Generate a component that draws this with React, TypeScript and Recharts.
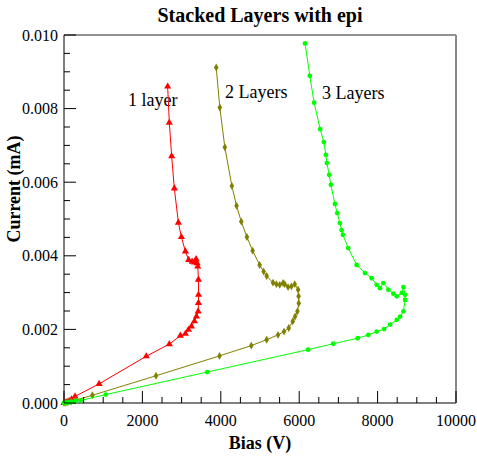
// Stacked Layers with epi - I-V curves drawn with Recharts
import { ScatterChart, Scatter, XAxis, YAxis, Customized, Symbols } from 'recharts';

const oneLayerBias = [0, 40, 80, 130, 190, 282, 896, 2099, 2687, 2969, 3097, 3174, 3250, 3327, 3378, 3422, 3430, 3432, 3430, 3412, 3395, 3370, 3327, 3268, 3180, 3097, 2995, 2918, 2815, 2746, 2687, 2644];
const oneLayerCurrent = [0, 0.00001, 0.00003, 0.00005, 0.0001, 0.00018, 0.00052, 0.00127, 0.0016, 0.00183, 0.00188, 0.00199, 0.00208, 0.00222, 0.00235, 0.00249, 0.00272, 0.00294, 0.00335, 0.00371, 0.0038, 0.00391, 0.00382, 0.00384, 0.00389, 0.00412, 0.00451, 0.0049, 0.00583, 0.00671, 0.00762, 0.0086];

const twoLayerBias = [0, 50, 100, 180, 300, 724, 2347, 3967, 4778, 5170, 5459, 5613, 5733, 5836, 5895, 5955, 5989, 5985, 5972, 5887, 5802, 5716, 5631, 5588, 5503, 5418, 5332, 5170, 5093, 4991, 4812, 4666, 4522, 4402, 4282, 4103, 3975, 3883];
const twoLayerCurrent = [0, 0.00001, 0.00002, 0.00004, 0.00008, 0.00021, 0.00074, 0.00128, 0.00156, 0.00172, 0.00185, 0.00194, 0.00204, 0.00222, 0.00235, 0.00249, 0.00271, 0.0029, 0.00308, 0.00323, 0.00317, 0.00315, 0.00323, 0.00326, 0.00321, 0.00323, 0.00327, 0.00345, 0.00357, 0.00375, 0.00414, 0.00451, 0.00493, 0.00536, 0.0059, 0.00695, 0.00803, 0.00912];

const threeLayerBias = [0, 40, 80, 130, 200, 300, 427, 1067, 3652, 6228, 6868, 7491, 7764, 7978, 8165, 8318, 8490, 8574, 8659, 8702, 8702, 8659, 8618, 8490, 8403, 8275, 8147, 8062, 7978, 7850, 7678, 7466, 7251, 7115, 7082, 7039, 6970, 6911, 6808, 6765, 6706, 6681, 6629, 6535, 6381, 6271, 6150];
const threeLayerCurrent = [0, 0.000005, 0.00001, 0.00002, 0.00003, 0.00005, 0.00007, 0.00023, 0.00084, 0.00145, 0.00161, 0.00176, 0.00185, 0.00194, 0.00201, 0.00213, 0.00226, 0.00235, 0.00249, 0.0028, 0.00294, 0.00315, 0.00299, 0.0029, 0.00297, 0.00308, 0.00326, 0.00312, 0.00321, 0.00339, 0.00353, 0.00375, 0.00421, 0.00457, 0.0047, 0.00489, 0.00516, 0.00541, 0.00593, 0.0062, 0.00652, 0.00674, 0.00709, 0.00744, 0.00816, 0.00889, 0.00977];

// every 500 V / 0.0005 mA gets a tick, labels only on the major ones
const xTicks = [0, 500, 1000, 1500, 2000, 2500, 3000, 3500, 4000, 4500, 5000, 5500, 6000, 6500, 7000, 7500, 8000, 8500, 9000, 9500, 10000];
const xLabelStep = 2000;
const yTicks = [0, 0.0005, 0.001, 0.0015, 0.002, 0.0025, 0.003, 0.0035, 0.004, 0.0045, 0.005, 0.0055, 0.006, 0.0065, 0.007, 0.0075, 0.008, 0.0085, 0.009, 0.0095, 0.01];
const yLabelStep = 0.002;

const toPoints = (bias: number[], current: number[]) =>
    bias.map((b, i) => ({ bias: b, current: current[i] }));

const oneLayer = toPoints(oneLayerBias, oneLayerCurrent);
const twoLayer = toPoints(twoLayerBias, twoLayerCurrent);
const threeLayer = toPoints(threeLayerBias, threeLayerCurrent);

const FONT = '"Liberation Serif", "Times New Roman", serif';
const textStyle = { fontFamily: FONT };
const tickStyle = { fontFamily: FONT, fontSize: '16px', fontWeight: 'normal' as const };

const isMajor = (v: number, step: number) => Math.abs(v / step - Math.round(v / step)) < 1e-6;

// inward tick marks + serif labels
const XTick = (props: any) => {
    const v = props.payload.value;
    const major = isMajor(v, xLabelStep);
    return (
        <g>
            <line x1={props.x} x2={props.x} y1={props.y} y2={props.y - (major ? 12 : 6)} stroke="#000" />
            {major && (
                <text x={props.x} y={props.y + 23} textAnchor="middle" fill="#000" style={tickStyle}>
                    {String(v)}
                </text>
            )}
        </g>
    );
};
const YTick = (props: any) => {
    const v = props.payload.value;
    const major = isMajor(v, yLabelStep);
    return (
        <g>
            <line x1={props.x} x2={props.x + (major ? 12 : 6)} y1={props.y} y2={props.y} stroke="#000" />
            {major && (
                <text x={props.x - 6} y={props.y + 5.5} textAnchor="end" fill="#000" style={tickStyle}>
                    {v.toFixed(3)}
                </text>
            )}
        </g>
    );
};

// small markers, the default scatter symbols are too big
const marker = (type: 'triangle' | 'diamond' | 'circle', color: string, size: number) =>
    (props: any) => <Symbols cx={props.cx} cy={props.cy} type={type} size={size} fill={color} />;

function Annotations() {
    return (
        <g fill="#000" style={textStyle}>
            <text x={260} y={22} textAnchor="middle" fontSize={20} fontWeight="bold">Stacked Layers with epi</text>
            <text x={128} y={106} fontSize={18}>1 layer</text>
            <text x={225} y={98} fontSize={18}>2 Layers</text>
            <text x={322} y={99} fontSize={18}>3 Layers</text>
        </g>
    );
}

export default function App() {
    // fixed to the window corner so the body margin and page scrolling play no part
    return (
        <div style={{ position: 'fixed', left: 0, top: 0, width: 477, height: 460, background: '#fff', fontFamily: FONT }}>
            <ScatterChart width={477} height={460} margin={{ top: 35, right: 21, bottom: 0, left: 0 }}>
                <XAxis
                    xAxisId={0}
                    type="number"
                    dataKey="bias"
                    domain={[0, 10000]}
                    ticks={xTicks}
                    interval={0}
                    height={57}
                    tickLine={false}
                    tickSize={0}
                    tickMargin={0}
                    axisLine={{ stroke: '#000' }}
                    tick={XTick}
                    label={{
                        content: () => (
                            <text x={260} y={449} textAnchor="middle" fill="#000"
                                style={{ fontFamily: FONT, fontSize: '18px', fontWeight: 'bold' }}>Bias (V)</text>
                        ),
                    }}
                />
                <XAxis xAxisId="xtop" orientation="top" type="number" domain={[0, 10000]} allowDataOverflow mirror tick={false} tickLine={false} axisLine={{ stroke: '#222' }} />
                <YAxis
                    yAxisId={0}
                    type="number"
                    dataKey="current"
                    domain={[0, 0.01]}
                    ticks={yTicks}
                    interval={0}
                    width={64}
                    tickLine={false}
                    tickSize={0}
                    tickMargin={0}
                    axisLine={{ stroke: '#000' }}
                    tick={YTick}
                    label={{
                        content: () => (
                            <text x={14} y={189} transform="rotate(-90 14 189)" textAnchor="middle" dominantBaseline="central"
                                fill="#000" style={{ fontFamily: FONT, fontSize: '18px', fontWeight: 'bold' }}>Current (mA)</text>
                        ),
                    }}
                />
                <YAxis yAxisId="yright" orientation="right" type="number" domain={[0, 0.01]} allowDataOverflow mirror tick={false} tickLine={false} axisLine={{ stroke: '#888', strokeWidth: 2 }} />

                <Scatter data={oneLayer} shape={marker('triangle', '#ff0000', 22)} fill="#ff0000" line={{ stroke: '#ff0000', strokeWidth: 1 }} isAnimationActive={false} />
                <Scatter data={twoLayer} shape={marker('diamond', '#808000', 18)} fill="#808000" line={{ stroke: '#808000', strokeWidth: 1 }} isAnimationActive={false} />
                <Scatter data={threeLayer} shape={marker('circle', '#00ff00', 18)} fill="#00ff00" line={{ stroke: '#00ff00', strokeWidth: 1 }} isAnimationActive={false} />

                <Customized component={Annotations} />
            </ScatterChart>
        </div>
    );
}
